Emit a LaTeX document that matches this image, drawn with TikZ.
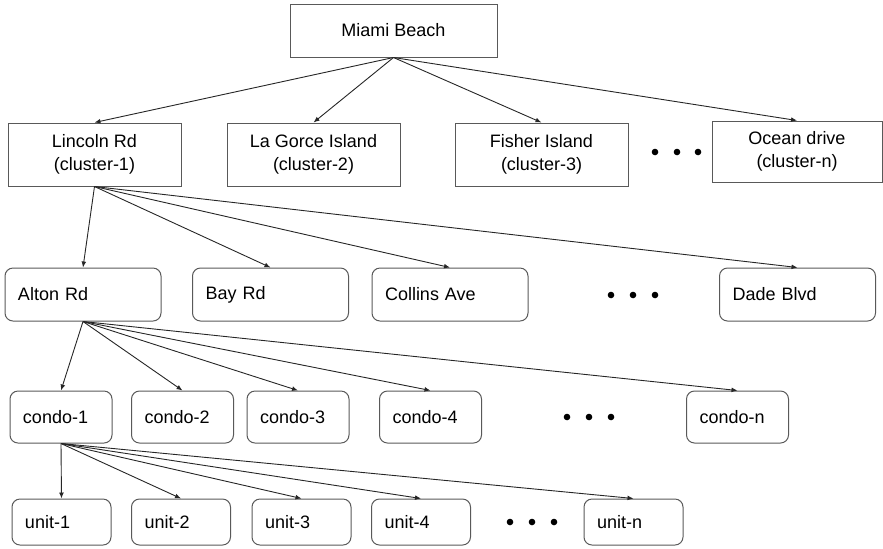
\documentclass[tikz,border=0pt]{standalone}
\usepackage{fontspec}
\setmainfont{Liberation Sans}
\usetikzlibrary{arrows.meta}

\tikzset{
  sqbox/.style={draw=black!65, line width=0.5pt, align=center, inner sep=0pt,
    minimum width=86.5pt, minimum height=31.5pt, font=\fontsize{9}{11.5}\selectfont},
  rbox/.style={draw=black!65, line width=0.5pt, rounded corners=4pt, align=left,
    inner xsep=6.5pt, inner ysep=0pt, font=\fontsize{9}{11}\selectfont},
  road/.style={rbox, text width=65pt, minimum height=26.5pt},
  condo/.style={rbox, text width=38pt, minimum height=26pt},
  unit/.style={rbox, text width=36.5pt, minimum height=23pt},
  dot/.style={circle, fill=black, inner sep=0pt, minimum size=3.3pt},
  arr/.style={-{Latex[length=3pt,width=2.4pt]}, line width=0.45pt, black!85}
}

\begin{document}
\begin{tikzpicture}[x=0.5pt,y=-0.5pt]
  \useasboundingbox (0,0) rectangle (883,548);

  % city
  \node[sqbox, minimum width=103.5pt, minimum height=26.5pt] (mb) at (393.5,30.5) {Miami Beach};

  % clusters
  \node[sqbox] (c1) at (94.5,154.5) {Lincoln Rd\\(cluster-1)};
  \node[sqbox] (c2) at (313.5,154.5) {La Gorce Island\\(cluster-2)};
  \node[sqbox] (c3) at (541.5,154.5) {Fisher Island\\(cluster-3)};
  \node[sqbox, minimum width=85pt, minimum height=30.5pt] (cn) at (797,151.5) {Ocean drive\\(cluster-n)};
  \node[dot] (cd1) at (655,152) {};
  \node[dot] (cd2) at (677,152) {};
  \node[dot] (cd3) at (698,152) {};

  % roads
  \node[road] (r1) at (83,294.5) {Alton Rd};
  \node[road] (r2) at (270.5,294.5) {Bay Rd};
  \node[road] (r3) at (450,294.5) {Collins Ave};
  \node[road] (rn) at (797.5,294.5) {Dade Blvd};
  \node[dot] (rd1) at (611,295) {};
  \node[dot] (rd2) at (633,295) {};
  \node[dot] (rd3) at (655,295) {};

  % condos
  \node[condo] (k1) at (61,417) {condo-1};
  \node[condo] (k2) at (182.5,417) {condo-2};
  \node[condo] (k3) at (298,417) {condo-3};
  \node[condo] (k4) at (430.5,417) {condo-4};
  \node[condo] (kn) at (737.5,417) {condo-n};
  \node[dot] (kd1) at (567,417) {};
  \node[dot] (kd2) at (589,417) {};
  \node[dot] (kd3) at (611,417) {};

  % units
  \node[unit] (u1) at (61.5,522) {unit-1};
  \node[unit] (u2) at (181,522) {unit-2};
  \node[unit] (u3) at (301.5,522) {unit-3};
  \node[unit] (u4) at (421,522) {unit-4};
  \node[unit] (un) at (633.5,522) {unit-n};
  \node[dot] (ud1) at (510,522) {};
  \node[dot] (ud2) at (532,522) {};
  \node[dot] (ud3) at (554,522) {};

  \foreach \c in {c1,c2,c3,cn} \draw[arr] (mb.south) -- (\c.north);
  \foreach \r in {r1,r2,r3,rn} \draw[arr] (c1.south) -- (\r.north);
  \foreach \k in {k1,k2,k3,k4,kn} \draw[arr] (r1.south) -- (\k.north);
  \foreach \u in {u1,u2,u3,u4,un} \draw[arr] (k1.south) -- (\u.north);

\end{tikzpicture}
\end{document}
